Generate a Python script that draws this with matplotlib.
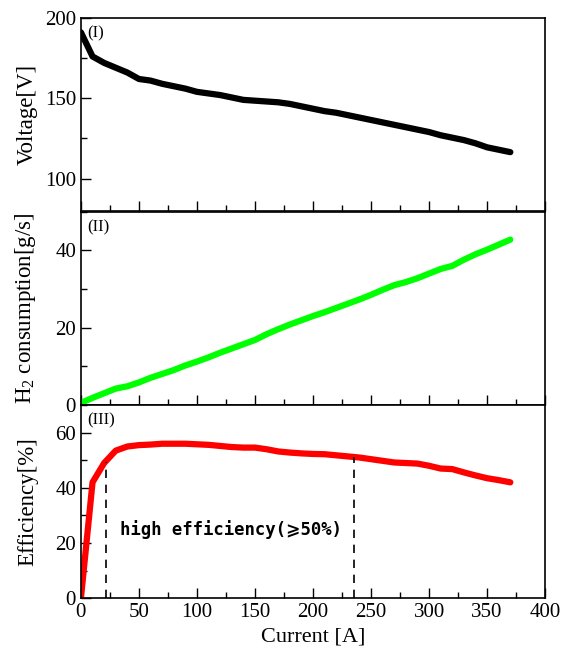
import matplotlib
matplotlib.use("Agg")
import matplotlib.pyplot as plt
from matplotlib.ticker import MultipleLocator

plt.rcParams["font.family"] = ["Liberation Serif", "DejaVu Serif"]
plt.rcParams["mathtext.fontset"] = "custom"
plt.rcParams["mathtext.rm"] = "Liberation Serif"
plt.rcParams["mathtext.it"] = "Liberation Serif:italic"

# data
current = [0, 10, 20, 30, 40, 50, 60, 70, 80, 90, 100, 110, 120, 130, 140, 150,
           160, 170, 180, 190, 200, 210, 220, 230, 240, 250, 260, 270, 280, 290,
           300, 310, 320, 330, 340, 350, 360, 370]
voltage = [191, 176, 172, 169, 166, 162, 161, 159, 157.5, 156, 154, 153, 152,
           150.5, 149, 148.5, 148, 147.5, 146.5, 145, 143.5, 142, 141, 139.5, 138,
           136.5, 135, 133.5, 132, 130.5, 129, 127, 125.5, 124, 122, 119.5, 118, 116.5]
h2_consumption = [0.5, 1.8, 3.0, 4.2, 4.8, 5.8, 7.0, 8.0, 9.0, 10.2, 11.2, 12.3,
                  13.5, 14.6, 15.7, 16.8, 18.3, 19.6, 20.8, 21.9, 23.0, 24.0, 25.1,
                  26.2, 27.3, 28.5, 29.8, 31.0, 31.8, 32.8, 34.0, 35.2, 36.0, 37.6,
                  39.0, 40.2, 41.5, 42.8]
efficiency = [0, 42, 49, 53.5, 55, 55.5, 55.7, 56, 56, 56, 55.8, 55.6, 55.2, 54.8,
              54.6, 54.6, 54, 53.2, 52.8, 52.5, 52.3, 52.2, 51.8, 51.4, 51, 50.4,
              49.8, 49.2, 49, 48.8, 48, 47, 46.8, 45.6, 44.5, 43.5, 42.8, 42]
high_eff_bounds = [22, 235]
high_eff_top = [49.5, 51.2]

fig = plt.figure(figsize=(5.62, 6.62), dpi=100)
axes = []
tops = [0.973, 0.680, 0.388]
h = 0.2915
for t in tops:
    axes.append(fig.add_axes([0.144, t - h, 0.826, h]))
ax1, ax2, ax3 = axes

ax1.plot(current, voltage, color="black", lw=4.5, solid_capstyle="round")
ax2.plot(current, h2_consumption, color="#00ff00", lw=4.5, solid_capstyle="round")
ax3.plot(current, efficiency, color="#ff0000", lw=4.5, solid_capstyle="round")

# dashed bounds of the high efficiency region
for x, yt in zip(high_eff_bounds, high_eff_top):
    ax3.plot([x, x], [0, yt], color="black", lw=1.2, ls=(0, (5, 4)))
ax3.text(34, 25, "high efficiency(⩾50%)", fontsize=12.4, fontweight="bold",
         family=["DejaVu Sans Mono", "DejaVu Sans"], va="center")

ax1.set_ylim(80, 200)
ax1.yaxis.set_major_locator(MultipleLocator(50))
ax1.yaxis.set_minor_locator(MultipleLocator(25))
ax2.set_ylim(0, 50)
ax2.yaxis.set_major_locator(MultipleLocator(20))
ax2.yaxis.set_minor_locator(MultipleLocator(10))
ax3.set_ylim(0, 70)
ax3.yaxis.set_major_locator(MultipleLocator(20))
ax3.yaxis.set_minor_locator(MultipleLocator(10))

labels = ["Voltage[V]", "H$_2$ consumption[g/s]", "Efficiency[%]"]
tags = ["(I)", "(II)", "(III)"]
for ax, lab, tag in zip(axes, labels, tags):
    ax.set_xlim(0, 400)
    ax.xaxis.set_major_locator(MultipleLocator(50))
    ax.xaxis.set_minor_locator(MultipleLocator(25))
    ax.tick_params(which="major", direction="in", length=7, width=1, labelsize=15,
                   top=False, right=False)
    ax.tick_params(which="minor", direction="in", length=4, width=1,
                   top=False, right=False)
    for s in ax.spines.values():
        s.set_linewidth(1.2)
    ax.set_ylabel(lab, fontsize=16.5)
    ax.yaxis.set_label_coords(-0.092, 0.5)
    ax.text(0.014, 0.962, tag, transform=ax.transAxes, fontsize=12, va="top")
    if ax is not ax3:
        ax.tick_params(labelbottom=False)

ax3.set_xlabel("Current [A]", fontsize=16)

fig.savefig("out.png", dpi=100)
